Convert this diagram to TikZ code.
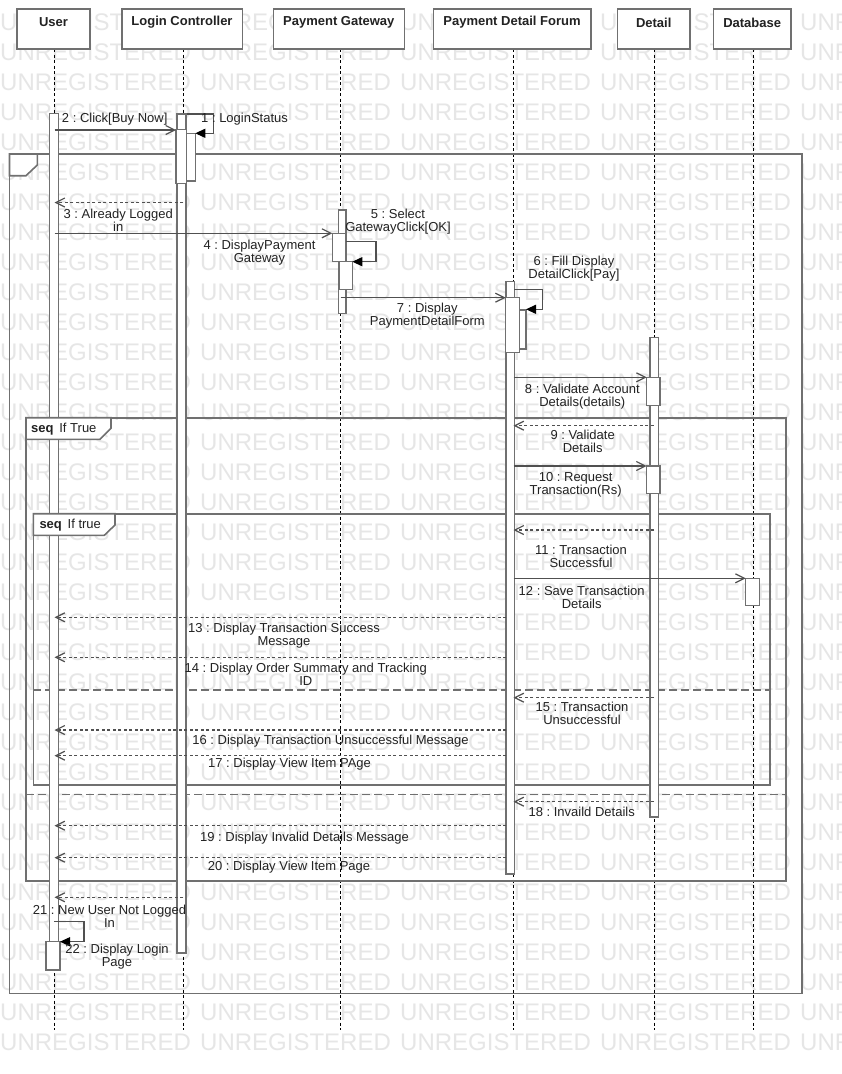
\documentclass[tikz,border=0pt]{standalone}
\usepackage{fontspec}
\setmainfont{Liberation Sans}
\usetikzlibrary{arrows.meta}
\frenchspacing

\definecolor{wmark}{HTML}{E6E6E6}
\definecolor{edgegray}{HTML}{707070}
\definecolor{msggray}{HTML}{505050}
\definecolor{inkgray}{HTML}{222222}

\tikzset{
  watermark/.style={anchor=west, inner sep=0pt, text=wmark, font=\fontsize{24}{24}\selectfont},
  headbox/.style={draw=edgegray, line width=1.6pt, fill=white, inner sep=0pt, minimum height=40pt},
  headtext/.style={inner sep=0pt, text=inkgray, font=\fontsize{13}{13}\selectfont\bfseries},
  lifeline/.style={draw=black, line width=0.9pt, dash pattern=on 3pt off 2.5pt},
  actbar/.style={draw=edgegray, line width=1.4pt, fill=white},
  frameline/.style={draw=edgegray, line width=1.6pt},
  framesep/.style={draw=edgegray, line width=1.6pt, dash pattern=on 8pt off 4pt},
  frametag/.style={draw=edgegray, line width=1.6pt, fill=white},
  tagtext/.style={anchor=west, inner sep=0pt, text=inkgray, font=\fontsize{13}{13}\selectfont},
  msgcall/.style={draw=msggray, line width=1.2pt, -{Straight Barb[length=9pt,width=9pt]}},
  msgret/.style={draw=msggray, line width=1.2pt, dash pattern=on 3pt off 2.5pt, -{Straight Barb[length=9pt,width=9pt]}},
  msgself/.style={draw=msggray, line width=1.2pt, -{Triangle[length=10pt,width=9pt,color=black]}},
  msglabel/.style={inner sep=0pt, text=inkgray, align=center, font=\fontsize{13}{13}\selectfont},
}

% straight message between two named end points at one height
\newcommand{\sendmsg}[5]{%
  \coordinate (#1a) at (#2,#4);
  \coordinate (#1b) at (#3,#4);
  \draw[#5] (#1a) -- (#1b);}
% self message: out at #3, right to #4, down to #5, back to #6
\newcommand{\selfmsg}[6]{%
  \coordinate (#1a) at (#2,#3);
  \coordinate (#1c) at (#4,#5);
  \coordinate (#1b) at (#6,#5);
  \draw[msgself] (#1a) -| (#1c) -- (#1b);}

\begin{document}
\begin{tikzpicture}[x=1pt, y=-1pt]
\clip (0,0) rectangle (842,1074);
\fill[white] (0,0) rectangle (842,1074);

% tool watermark rows
\foreach \r in {0,...,34}{
  \foreach \c in {0,...,4}{
    \node[watermark] (wm-\r-\c) at (200*\c, 22.5+30*\r) {UNREGISTERED};
  }
}

% lifelines
\foreach \n/\x in {user/54.3, login/183.3, gate/340.3, form/513.7, detail/654.5, db/753.3}{
  \coordinate (\n-top) at (\x,49);
  \coordinate (\n-bot) at (\x,1030);
  \draw[lifeline] (\n-top) -- (\n-bot);
}

% participants
\node[headbox, minimum width=73pt]    (user)   at (53.5,29)  {};
\node[headbox, minimum width=120.6pt] (login)  at (182,29)   {};
\node[headbox, minimum width=131pt]   (gate)   at (338.8,29) {};
\node[headbox, minimum width=157.4pt] (form)   at (512,29)   {};
\node[headbox, minimum width=72.7pt]  (detail) at (653.7,29) {};
\node[headbox, minimum width=77.7pt]  (db)     at (752.2,29) {};
\node[headtext] (userT)   at (53.5,22.5)  {User};
\node[headtext] (loginT)  at (182,22.5)   {Login Controller};
\node[headtext] (gateT)   at (338.8,22.5) {Payment Gateway};
\node[headtext] (formT)   at (512,22.5)   {Payment Detail Forum};
\node[headtext] (detailT) at (653.7,22.5) {Detail};
\node[headtext] (dbT)     at (752.2,22.5) {Database};

% combined fragments
\draw[frameline] (9.5,154) rectangle (801.7,993.5);
\draw[frameline] (26,417.7) rectangle (786,881);
\draw[frameline] (33.3,513.7) rectangle (770,785);
\draw[framesep] (33.3,690) -- (770,690);
\draw[framesep] (26,794.3) -- (786,794.3);

% activation bars
\draw[actbar] (49.3,113.5) rectangle (58.3,942);
\draw[actbar] (46,941.7) rectangle (60,970);
\draw[actbar] (177,114) rectangle (186,953);
\draw[actbar] (176,129.3) rectangle (186.7,183.3);
\draw[actbar] (186.7,133.3) rectangle (195.3,181);
\draw[actbar] (338.3,210) rectangle (346,313.3);
\draw[actbar] (332.3,233.3) rectangle (346,261.7);
\draw[actbar] (339,261.7) rectangle (352.3,289.3);
\draw[actbar] (506,281.7) rectangle (514.3,874);
\draw[actbar] (505.7,297.7) rectangle (519.3,352.3);
\draw[actbar] (519.3,310) rectangle (526,349);
\draw[actbar] (650,337.3) rectangle (658.3,817);
\draw[actbar] (646.7,377.3) rectangle (660,405.7);
\draw[actbar] (646.7,466) rectangle (660,493.3);
\draw[actbar] (745.7,578.3) rectangle (759.3,605.7);

% fragment tags
\draw[frametag] (9.5,154) -- (37.3,154) -- (37.3,165) -- (26,175.7) -- (9.5,175.7) -- cycle;
\draw[frametag] (26,417.7) -- (111,417.7) -- (111,428.3) -- (100,439.3) -- (26,439.3) -- cycle;
\draw[frametag] (33.3,513.7) -- (115,513.7) -- (115,525) -- (104.3,535.3) -- (33.3,535.3) -- cycle;
\node[tagtext] (tagT) at (31,429) {\textbf{seq}\, If True};
\node[tagtext] (tagt) at (39.3,524.7) {\textbf{seq}\, If true};

% messages
\selfmsg{m1}{186.7}{114}{213.3}{133.3}{195.3}
\sendmsg{m2}{54.5}{176}{130}{msgcall}
\sendmsg{m3}{183.3}{54.5}{202.5}{msgret}
\sendmsg{m4}{54.5}{332.3}{233.3}{msgcall}
\selfmsg{m5}{346}{241.7}{376}{261.7}{352.3}
\selfmsg{m6}{514.3}{289.3}{542.7}{309.3}{526}
\sendmsg{m7}{340.5}{505.7}{297.7}{msgcall}
\sendmsg{m8}{513.7}{646.7}{377.3}{msgcall}
\sendmsg{m9}{653.5}{513.5}{425.7}{msgret}
\sendmsg{m10}{513.7}{646.7}{466}{msgcall}
\sendmsg{m11}{654}{513.5}{530}{msgret}
\sendmsg{m12}{513.7}{745.7}{578.3}{msgcall}
\sendmsg{m13}{506}{54.5}{617.3}{msgret}
\sendmsg{m14}{506}{54.5}{657.3}{msgret}
\sendmsg{m15}{654}{513.5}{697.7}{msgret}
\sendmsg{m16}{506}{54.5}{730}{msgret}
\sendmsg{m17}{506}{54.5}{755.7}{msgret}
\sendmsg{m18}{654}{513.5}{801.7}{msgret}
\sendmsg{m19}{506}{54.5}{825.7}{msgret}
\sendmsg{m20}{506}{54.5}{857.7}{msgret}
\sendmsg{m21}{183.3}{54.5}{897.3}{msgret}
\selfmsg{m22}{54.3}{921.7}{84}{941.7}{60}

% message labels
\node[msglabel, anchor=west] (l1) at (201,119.5) {1 : LoginStatus};
\node[msglabel] (l2)  at (114.7,119.3) {2 : Click[Buy Now]};
\node[msglabel] (l3)  at (118.2,220.3) {3 : Already Logged\\in};
\node[msglabel] (l4)  at (259.5,252.7) {4 : DisplayPayment\\Gateway};
\node[msglabel] (l5)  at (398,221.3)   {5 : Select\\GatewayClick[OK]};
\node[msglabel] (l6)  at (574,268.8)   {6 : Fill Display\\DetailClick[Pay]};
\node[msglabel] (l7)  at (427.3,315.8) {7 : Display\\PaymentDetailForm};
\node[msglabel] (l8)  at (582.3,396.3) {8 : Validate Account\\Details(details)};
\node[msglabel] (l9)  at (582.7,441)   {9 : Validate\\Details};
\node[msglabel] (l10) at (575.7,484.7) {10 : Request\\Transaction(Rs)};
\node[msglabel] (l11) at (581,556.7)   {11 : Transaction\\Successful};
\node[msglabel] (l12) at (581.7,597.3) {12 : Save Transaction\\Details};
\node[msglabel] (l13) at (284,636)     {13 : Display Transaction Success\\Message};
\node[msglabel] (l14) at (305.8,674.7) {14 : Display Order Summary and Tracking\\ID};
\node[msglabel] (l15) at (582,713.7)   {15 : Transaction\\Unsuccessful};
\node[msglabel] (l16) at (330.5,740.7) {16 : Display Transaction Unsuccessful Message};
\node[msglabel] (l17) at (289.5,764.3) {17 : Display View Item PAge};
\node[msglabel] (l18) at (581.7,811.7) {18 : Invaild Details};
\node[msglabel] (l19) at (304.5,838.3) {19 : Display Invalid Details Message};
\node[msglabel] (l20) at (289,866.7)   {20 : Display View Item Page};
\node[msglabel] (l21) at (109.5,916)   {21 : New User Not Logged\\In};
\node[msglabel] (l22) at (117,957)     {22 : Display Login\\Page};
\end{tikzpicture}
\end{document}
